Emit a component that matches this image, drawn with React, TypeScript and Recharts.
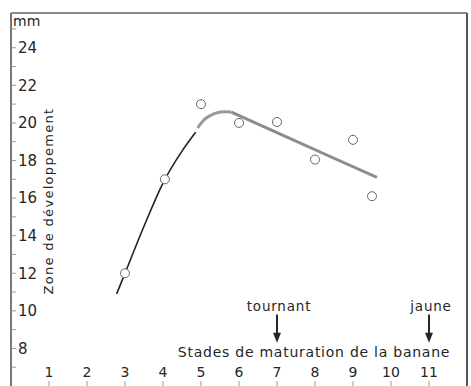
import { ComposedChart, Line, Scatter, XAxis, YAxis, ReferenceLine, Customized } from 'recharts';

const stageTicks = [1, 2, 3, 4, 5, 6, 7, 8, 9, 10, 11];
const mmTicksLeft = [7, 8, 9, 10, 11, 12, 13, 14, 15, 16, 17, 18, 19, 20, 21, 22, 23, 24, 25];
const mmTicksRight = [7, 8, 9, 10, 11, 12, 13, 14, 15, 16, 17, 18, 19, 20, 21, 22, 23, 24];

// measured points (open circles)
const measuredStage = [3, 4.05, 5, 6, 7, 8, 9, 9.5];
const measuredMm = [12, 17, 21, 20, 20.05, 18.05, 19.1, 16.1];

// dark rising curve
const riseStage = [2.78, 3, 3.5, 4, 4.5, 4.86];
const riseMm = [10.9, 12, 14.5, 16.8, 18.5, 19.5];

// grey arc
const arcStage = [4.91, 5.1, 5.35, 5.6, 5.8];
const arcMm = [19.74, 20.2, 20.5, 20.6, 20.58];

// grey straight decline
const slopeStage = [5.8, 7, 8.5, 9.63];
const slopeMm = [20.58, 19.48, 18.12, 17.1];

// arrows
const markerStages = [7, 11];
const markerNames = ['tournant', 'jaune'];
const markerFrom = 9.8;
const markerTo = 8.3;

const measured = measuredStage.map((s, i) => ({ stage: s, mm: measuredMm[i] }));
const rise = riseStage.map((s, i) => ({ stage: s, mm: riseMm[i] }));
const arc = arcStage.map((s, i) => ({ stage: s, mm: arcMm[i] }));
const slope = slopeStage.map((s, i) => ({ stage: s, mm: slopeMm[i] }));

const FONT = '"DejaVu Sans", sans-serif';
const INK = '#262626';

const ArrowShape = (name: string) => (props: any) => {
  const { x1, y1, x2, y2 } = props;
  const top = Math.min(y1, y2);
  const bottom = Math.max(y1, y2);
  return (
    <g>
      <text x={x1 + 2} y={top - 4} textAnchor="middle" fontSize={13.5} letterSpacing={0.8} fill={INK} fontFamily={FONT}>
        {name}
      </text>
      <line x1={x1} y1={top} x2={x2} y2={bottom - 8} stroke={INK} strokeWidth={2} />
      <polygon points={`${x1 - 4},${bottom - 10} ${x1 + 4},${bottom - 10} ${x1},${bottom}`} fill={INK} />
    </g>
  );
};

const Titles = () => (
  <g fontFamily={FONT} fill={INK}>
    <text x={13} y={26} fontSize={14}>mm</text>
    <text
      x={53}
      y={201}
      fontSize={13}
      letterSpacing={1.3}
      textAnchor="middle"
      transform="rotate(-90 53 201)"
    >
      Zone de développement
    </text>
    <text x={314} y={357} fontSize={14} letterSpacing={0.75} textAnchor="middle">
      Stades de maturation de la banane
    </text>
  </g>
);

export default function App() {
  return (
    <div style={{ position: 'absolute', left: 0, top: 0, width: 471, height: 386, background: '#fff' }}>
      <ComposedChart width={471} height={386} margin={{ top: 13, right: 4, bottom: 0, left: 11 }}>
        <XAxis
          xAxisId="bottom"
          type="number"
          dataKey="stage"
          domain={[0, 12]}
          ticks={stageTicks}
          orientation="bottom"
          mirror
          axisLine={false}
          tickLine={{ stroke: '#999' }}
          tickSize={5}
          tickMargin={4}
          tick={{ fontSize: 14, fill: INK, fontFamily: FONT }}
          allowDataOverflow
        />
        <XAxis
          xAxisId="top"
          type="number"
          domain={[0, 12]}
          ticks={stageTicks}
          orientation="top"
          mirror
          axisLine={{ stroke: '#8a8a8a', strokeWidth: 2 }}
          tickLine={{ stroke: '#888' }}
          tickSize={5}
          tick={false}
        />
        <YAxis
          yAxisId="left"
          type="number"
          dataKey="mm"
          domain={[6, 25.85]}
          ticks={mmTicksLeft}
          mirror
          axisLine={{ stroke: '#777', strokeWidth: 2 }}
          tickLine={{ stroke: '#999' }}
          tickSize={5}
          tickMargin={2}
          tickFormatter={(v: number) => (v % 2 === 0 && v >= 8 ? String(v) : '')}
          tick={{ fontSize: 15, fill: INK, fontFamily: FONT }}
          allowDataOverflow
        />
        <YAxis
          yAxisId="right"
          type="number"
          orientation="right"
          domain={[6, 25.85]}
          ticks={mmTicksRight}
          mirror
          axisLine={{ stroke: '#555', strokeWidth: 2 }}
          tickLine={{ stroke: '#999' }}
          tickSize={4}
          tick={false}
        />
        <Line
          xAxisId="bottom"
          yAxisId="left"
          data={rise}
          dataKey="mm"
          type="monotone"
          stroke="#222"
          strokeWidth={1.6}
          dot={false}
          isAnimationActive={false}
        />
        <Line
          xAxisId="bottom"
          yAxisId="left"
          data={arc}
          dataKey="mm"
          type="monotone"
          stroke="#999"
          strokeWidth={3}
          dot={false}
          isAnimationActive={false}
        />
        <Line
          xAxisId="bottom"
          yAxisId="left"
          data={slope}
          dataKey="mm"
          type="linear"
          stroke="#8c8c8c"
          strokeWidth={3}
          dot={false}
          isAnimationActive={false}
        />
        <Scatter
          xAxisId="bottom"
          yAxisId="left"
          data={measured}
          dataKey="mm"
          isAnimationActive={false}
          shape={(p: any) => <circle cx={p.cx} cy={p.cy} r={4.5} fill="#fff" stroke="#666" strokeWidth={1} />}
        />
        {markerStages.map((s, i) => (
          <ReferenceLine
            key={markerNames[i]}
            xAxisId="bottom"
            yAxisId="left"
            segment={[{ x: s, y: markerFrom }, { x: s, y: markerTo }]}
            shape={ArrowShape(markerNames[i])}
          />
        ))}
        <Customized component={<Titles />} />
      </ComposedChart>
    </div>
  );
}
